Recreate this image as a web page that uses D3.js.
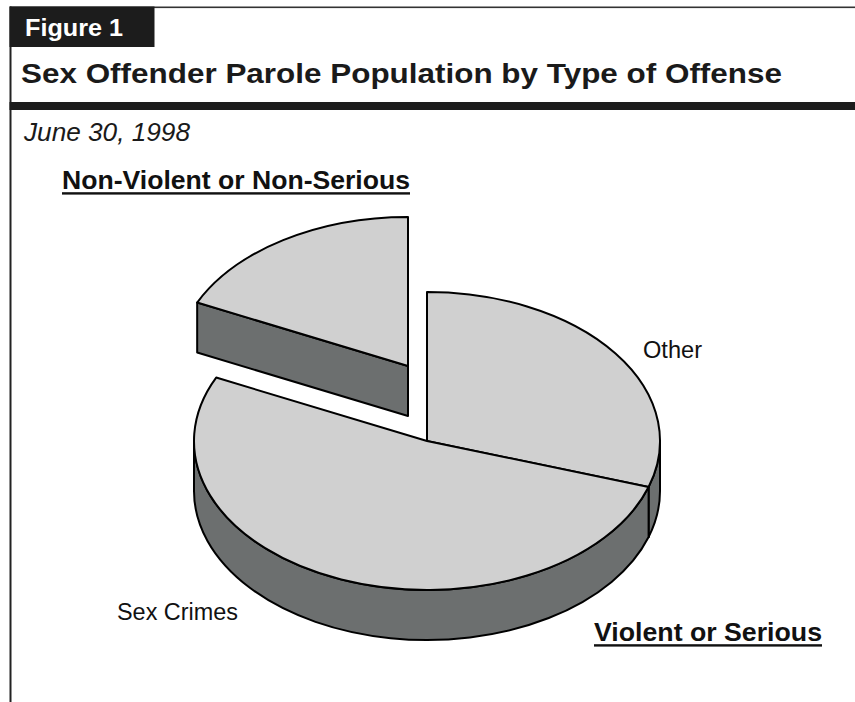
<!DOCTYPE html>
<html>
<head>
<meta charset="utf-8">
<script src="https://cdn.jsdelivr.net/npm/d3@7"></script>
<style>
  html, body { margin: 0; padding: 0; background: #ffffff; }
  svg { display: block; }
  text { font-family: "Liberation Sans", Arial, Helvetica, sans-serif; }
</style>
</head>
<body>
<script>
// Sex offender parole population by type of offense, June 30, 1998 (percent shares)
const categories = ["Other", "Sex Crimes", "Non-Violent or Non-Serious"];
const values = [30, 52, 18];
const exploded = [false, false, true];
const sliceLabels = ["Other", "Sex Crimes", null];
const groupLabels = ["Non-Violent or Non-Serious", "Violent or Serious"];

const W = 855, H = 702;
const svg = d3.select("body").append("svg").attr("width", W).attr("height", H);

// ---- frame and heading ----
svg.append("rect").attr("x", 10).attr("y", 6.5).attr("width", W - 10).attr("height", 1.6).attr("fill", "#333");
svg.append("rect").attr("x", 9.5).attr("y", 6.5).attr("width", 2).attr("height", H - 6.5).attr("fill", "#222");
svg.append("rect").attr("x", 9.5).attr("y", 6.5).attr("width", 145).attr("height", 40.5).attr("fill", "#1c1c1c");
svg.append("rect").attr("x", 9.5).attr("y", 102).attr("width", W - 9.5).attr("height", 8).attr("fill", "#1c1c1c");

svg.append("text").attr("x", 25).attr("y", 35.5)
  .attr("font-size", 24.5).attr("font-weight", "bold").attr("fill", "#fff")
  .attr("textLength", 98).attr("lengthAdjust", "spacingAndGlyphs")
  .text("Figure 1");

svg.append("text").attr("x", 21).attr("y", 82.5)
  .attr("font-size", 28.5).attr("font-weight", "bold").attr("fill", "#1a1a1a")
  .attr("textLength", 761).attr("lengthAdjust", "spacingAndGlyphs")
  .text("Sex Offender Parole Population by Type of Offense");

svg.append("text").attr("x", 24).attr("y", 141)
  .attr("font-size", 25).attr("font-style", "italic").attr("fill", "#1a1a1a")
  .attr("textLength", 166).attr("lengthAdjust", "spacingAndGlyphs")
  .text("June 30, 1998");

// ---- 3D pie ----
const cx = 427, cy = 441, rx = 233, ry = 149, depth = 50;
const explodeOffset = { dx: -19, dy: -75 };
const topFill = "#d0d0d0", sideFill = "#6c6f6f", edge = "#000";

const pie = d3.pie().sort(null).value(d => d.value);
const arcs = pie(categories.map((c, i) => ({ name: c, value: values[i], exploded: exploded[i] })));

function pt(a, z, o) {
  return [cx + o.dx + rx * Math.sin(a), cy + o.dy - ry * Math.cos(a) + z];
}
function arcTo(a0, a1, z, o, sweep) {
  const p = pt(a1, z, o);
  const large = Math.abs(a1 - a0) > Math.PI ? 1 : 0;
  return `A${rx},${ry} 0 ${large} ${sweep} ${p[0]},${p[1]}`;
}

const layers = { faces: svg.append("g"), walls: svg.append("g"), tops: svg.append("g") };

arcs.forEach(s => {
  const o = s.data.exploded ? explodeOffset : { dx: 0, dy: 0 };
  const a0 = s.startAngle, a1 = s.endAngle;
  const c0 = [cx + o.dx, cy + o.dy];

  // radial cut faces that turn toward the viewer
  [[a0, Math.sin(a0) < -1e-6], [a1, Math.sin(a1) > 1e-6]].forEach(([a, vis]) => {
    if (!vis) return;
    const p = pt(a, 0, o), q = pt(a, depth, o);
    layers.faces.append("path")
      .attr("d", `M${c0[0]},${c0[1]}L${p[0]},${p[1]}L${q[0]},${q[1]}L${c0[0]},${c0[1] + depth}Z`)
      .attr("fill", sideFill).attr("stroke", edge).attr("stroke-width", 2).attr("stroke-linejoin", "round");
  });

  // outer rim on the front half
  const s0 = Math.max(a0, Math.PI / 2), s1 = Math.min(a1, 3 * Math.PI / 2);
  if (s1 > s0) {
    const p0 = pt(s0, 0, o), p1b = pt(s1, depth, o);
    layers.walls.append("path")
      .attr("d", `M${p0[0]},${p0[1]}${arcTo(s0, s1, 0, o, 1)}L${p1b[0]},${p1b[1]}${arcTo(s1, s0, depth, o, 0)}Z`)
      .attr("fill", sideFill).attr("stroke", edge).attr("stroke-width", 2).attr("stroke-linejoin", "round");
  }

  // top face
  const p0 = pt(a0, 0, o);
  layers.tops.append("path")
    .attr("d", `M${c0[0]},${c0[1]}L${p0[0]},${p0[1]}${arcTo(a0, a1, 0, o, 1)}Z`)
    .attr("fill", topFill).attr("stroke", edge).attr("stroke-width", 2).attr("stroke-linejoin", "round");
});

// ---- labels ----
const sliceLabelPos = [[643, 358], [117, 620]];
const sliceLabelLen = [59, 121];
sliceLabels.forEach((t, i) => {
  if (!t) return;
  svg.append("text").attr("x", sliceLabelPos[i][0]).attr("y", sliceLabelPos[i][1])
    .attr("font-size", 23.5).attr("fill", "#111")
    .attr("textLength", sliceLabelLen[i]).attr("lengthAdjust", "spacingAndGlyphs")
    .text(t);
});

const groupPos = [[62, 189], [594, 641]];
const groupLen = [348, 228];
groupLabels.forEach((t, i) => {
  const [x, y] = groupPos[i];
  svg.append("text").attr("x", x).attr("y", y)
    .attr("font-size", 26.5).attr("font-weight", "bold").attr("fill", "#111")
    .attr("textLength", groupLen[i]).attr("lengthAdjust", "spacingAndGlyphs")
    .text(t);
  svg.append("rect").attr("x", x).attr("y", y + 3.2).attr("width", groupLen[i]).attr("height", 2.4).attr("fill", "#111");
});
</script>
</body>
</html>
